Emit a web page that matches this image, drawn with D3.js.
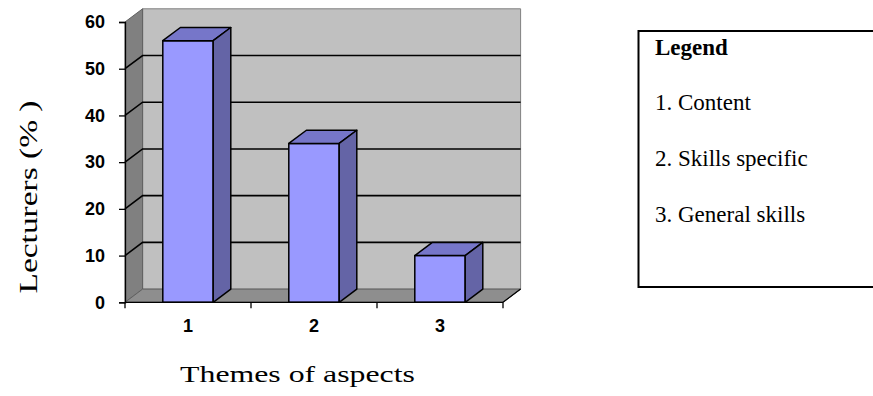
<!DOCTYPE html>
<html>
<head>
<meta charset="utf-8">
<script src="https://cdn.jsdelivr.net/npm/d3@7"></script>
<style>
  html, body { margin: 0; padding: 0; background: #fff; }
  svg { display: block; }
</style>
</head>
<body>
<svg id="chart" width="873" height="396"></svg>
<script>
// Share of lecturers (%) per theme of aspects
const categories = ["1", "2", "3"];
const values = [56, 34, 10];
const yTicks = [0, 10, 20, 30, 40, 50, 60];
const legendTitle = "Legend";
const legendItems = ["1. Content", "2. Skills specific", "3. General skills"];
const yTitle = "Lecturers (% )";
const xTitle = "Themes of aspects";

const serif = "'Liberation Serif', 'Times New Roman', serif";
const sans = "'Liberation Sans', Arial, sans-serif";

const svg = d3.select("#chart");

// plot frame (front plane) and 3-D depth offset
const plotLeft = 125, plotRight = 503, plotTop = 22, plotBottom = 302.3;
const depthX = 17.6, depthY = 13.2;

const x = d3.scaleBand().domain(categories).range([plotLeft, plotRight])
  .paddingInner(0.6).paddingOuter(0.3);
const xEdge = d3.scaleLinear().domain([0, categories.length]).range([plotLeft, plotRight]);
const y = d3.scaleLinear().domain([0, 60]).range([plotBottom, plotTop]);

const poly = pts => "M" + pts.map(p => p.join(",")).join("L") + "Z";

const g = svg.append("g");

// back wall
g.append("path")
  .attr("d", poly([[plotLeft + depthX, y(60) - depthY], [plotRight + depthX, y(60) - depthY],
                   [plotRight + depthX, y(0) - depthY], [plotLeft + depthX, y(0) - depthY]]))
  .attr("fill", "#c0c0c0").attr("stroke", "#808080").attr("stroke-width", 1);

// side wall
g.append("path")
  .attr("d", poly([[plotLeft, y(60)], [plotLeft + depthX, y(60) - depthY],
                   [plotLeft + depthX, y(0) - depthY], [plotLeft, y(0)]]))
  .attr("fill", "#808080").attr("stroke", "#606060").attr("stroke-width", 1);

// floor
g.append("path")
  .attr("d", poly([[plotLeft, y(0)], [plotLeft + depthX, y(0) - depthY],
                   [plotRight + depthX, y(0) - depthY], [plotRight, y(0)]]))
  .attr("fill", "#8e8e8e").attr("stroke", "#606060").attr("stroke-width", 1);

// gridlines across side wall and back wall
const grid = yTicks.filter(v => v > 0 && v < 60);
g.selectAll("path.grid").data(grid).join("path")
  .attr("class", "grid")
  .attr("d", v => `M${plotLeft},${y(v)}L${plotLeft + depthX},${y(v) - depthY}L${plotRight + depthX},${y(v) - depthY}`)
  .attr("fill", "none").attr("stroke", "#000").attr("stroke-width", 1.6);

// 3-D columns
const bars = g.selectAll("g.bar").data(values.map((v, i) => ({ c: categories[i], v })))
  .join("g").attr("class", "bar");

bars.append("path") // front face
  .attr("d", d => {
    const x0 = x(d.c), x1 = x(d.c) + x.bandwidth();
    return poly([[x0, y(d.v)], [x1, y(d.v)], [x1, y(0)], [x0, y(0)]]);
  })
  .attr("fill", "#9999ff").attr("stroke", "#000").attr("stroke-width", 1.5)
  .attr("stroke-linejoin", "round");

bars.append("path") // top face
  .attr("d", d => {
    const x0 = x(d.c), x1 = x(d.c) + x.bandwidth();
    return poly([[x0, y(d.v)], [x0 + depthX, y(d.v) - depthY],
                 [x1 + depthX, y(d.v) - depthY], [x1, y(d.v)]]);
  })
  .attr("fill", "#7676c9").attr("stroke", "#000").attr("stroke-width", 1.5)
  .attr("stroke-linejoin", "round");

bars.append("path") // side face
  .attr("d", d => {
    const x1 = x(d.c) + x.bandwidth();
    return poly([[x1, y(d.v)], [x1 + depthX, y(d.v) - depthY],
                 [x1 + depthX, y(0) - depthY], [x1, y(0)]]);
  })
  .attr("fill", "#6464a6").attr("stroke", "#000").attr("stroke-width", 1.5)
  .attr("stroke-linejoin", "round");

// value axis
const yAxis = svg.append("g").attr("transform", `translate(${plotLeft},0)`)
  .call(d3.axisLeft(y).tickValues(yTicks).tickSize(6).tickPadding(14));
yAxis.select(".domain").attr("stroke", "#000").attr("stroke-width", 1.3);
yAxis.selectAll(".tick line").attr("stroke", "#000").attr("stroke-width", 1.3);
yAxis.selectAll(".tick text")
  .attr("font-family", sans)
  .attr("font-weight", "bold").attr("font-size", 18).attr("fill", "#000");

// category axis: labels at band centres, ticks at band edges
const xAxis = svg.append("g").attr("transform", `translate(0,${plotBottom})`)
  .call(d3.axisBottom(x).tickSize(0).tickPadding(17));
xAxis.select(".domain").remove();
xAxis.selectAll(".tick text")
  .attr("font-family", sans)
  .attr("font-weight", "bold").attr("font-size", 18).attr("fill", "#000");
svg.append("line")
  .attr("x1", plotLeft).attr("x2", plotRight).attr("y1", plotBottom).attr("y2", plotBottom)
  .attr("stroke", "#000").attr("stroke-width", 1.3);
svg.append("line")
  .attr("x1", plotRight).attr("y1", plotBottom)
  .attr("x2", plotRight + depthX).attr("y2", plotBottom - depthY)
  .attr("stroke", "#000").attr("stroke-width", 1.3);
svg.selectAll("line.xtick").data(d3.range(categories.length + 1)).join("line")
  .attr("class", "xtick")
  .attr("x1", i => xEdge(i)).attr("x2", i => xEdge(i))
  .attr("y1", plotBottom).attr("y2", plotBottom + 6)
  .attr("stroke", "#000").attr("stroke-width", 1.3);

// axis titles, widened along their run to the drawn lengths
function stretchedTitle(text, cx, cy, angle, size, length) {
  const outer = svg.append("g").attr("transform", `translate(${cx},${cy}) rotate(${angle})`);
  const t = outer.append("text")
    .attr("text-anchor", "middle")
    .attr("font-family", serif)
    .attr("font-size", size)
    .attr("fill", "#000")
    .text(text);
  const natural = t.node().getComputedTextLength();
  t.attr("transform", `scale(${length / natural},1)`);
}
stretchedTitle(yTitle, 37, 197, -90, 25, 193);
stretchedTitle(xTitle, 297.5, 382, 0, 24, 235);

// legend box
const legend = svg.append("g").attr("transform", "translate(638.5,31)");
legend.append("rect")
  .attr("x", 0).attr("y", 0).attr("width", 260).attr("height", 256)
  .attr("fill", "#fff").attr("stroke", "#000").attr("stroke-width", 2);
legend.append("text")
  .attr("x", 16.5).attr("y", 24)
  .attr("font-family", serif)
  .attr("font-weight", "bold").attr("font-size", 23)
  .text(legendTitle);
legend.selectAll("text.item").data(legendItems).join("text")
  .attr("class", "item")
  .attr("x", 16.5).attr("y", (d, i) => 79 + i * 56)
  .attr("font-family", serif)
  .attr("font-size", 23)
  .text(d => d);
</script>
</body>
</html>
